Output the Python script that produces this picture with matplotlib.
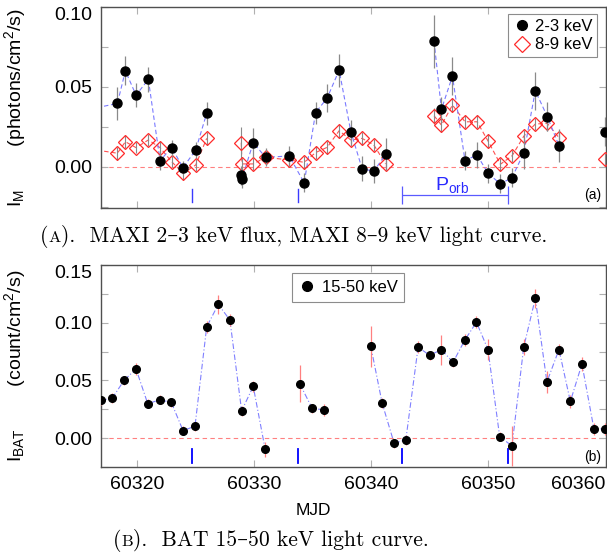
import numpy as np
import matplotlib
matplotlib.use("Agg")
import matplotlib.pyplot as plt
from matplotlib.ticker import FixedLocator, MultipleLocator, FormatStrFormatter
from matplotlib.lines import Line2D

plt.rcParams['font.family'] = ['Liberation Sans', 'DejaVu Sans']
plt.rcParams['mathtext.fontset'] = 'custom'
plt.rcParams['mathtext.rm'] = 'Liberation Sans'
plt.rcParams['mathtext.it'] = 'Liberation Sans:italic'
plt.rcParams['mathtext.bf'] = 'Liberation Sans:bold'

# MAXI daily light curve (photons/cm2/s)
maxi_mjd = [60316.0, 60318.35, 60319.03, 60319.94, 60320.99, 60321.99, 60322.98, 60323.95, 60325.03, 60325.97,
            60328.92, 60328.98, 60329.94, 60331.0, 60333.01, 60334.29, 60335.26, 60336.25, 60337.27, 60338.27,
            60339.23, 60340.23, 60341.23, 60345.37, 60346.0, 60346.94, 60348.01, 60349.04, 60349.98, 60351.03,
            60352.02, 60353.04, 60354.01, 60355.04, 60356.03, 60359.92]
flux_2_3 = [0.036, 0.0396, 0.060, 0.0448, 0.0546, 0.0038, 0.0119, -0.0006, 0.0104, 0.0334,
            -0.0055, -0.0075, 0.015, 0.0058, 0.0067, -0.0102, 0.0338, 0.043, 0.0604, 0.0219,
            -0.0013, -0.0029, 0.0077, 0.0786, 0.0359, 0.0567, 0.0038, 0.0073, -0.0042, -0.0108,
            -0.0069, 0.0088, 0.0475, 0.0313, 0.0131, 0.0219]
err_2_3 = [0.009, 0.0102, 0.009, 0.0075, 0.008, 0.006, 0.005, 0.004, 0.005, 0.0073,
           0.006, 0.006, 0.009, 0.0057, 0.006, 0.006, 0.007, 0.009, 0.0104, 0.0075,
           0.0078, 0.0075, 0.010, 0.0167, 0.0078, 0.0118, 0.006, 0.008, 0.006, 0.006,
           0.006, 0.010, 0.012, 0.009, 0.0104, 0.009]
flux_8_9 = [0.011, 0.0084, 0.0156, 0.0119, 0.0167, 0.0119, 0.0031, -0.0041, 0.001, 0.0177,
            0.015, 0.0017, 0.0017, 0.0058, 0.0042, 0.0027, 0.0088, 0.0121, 0.0225, 0.0167,
            0.0177, 0.0136, 0.0017, 0.0319, 0.026, 0.0386, 0.0281, 0.0281, 0.016, 0.0015,
            0.0067, 0.0192, 0.0267, 0.0271, 0.0181, 0.0046]
err_8_9 = [0.004, 0.004, 0.004, 0.0035, 0.004, 0.004, 0.0035, 0.004, 0.0035, 0.004,
           0.010, 0.004, 0.004, 0.0035, 0.004, 0.004, 0.004, 0.004, 0.0045, 0.004,
           0.004, 0.004, 0.004, 0.005, 0.004, 0.0045, 0.004, 0.004, 0.0045, 0.004,
           0.004, 0.004, 0.004, 0.0045, 0.004, 0.004]

# Swift/BAT daily light curve (count/cm2/s)
bat_mjd = [60316.96, 60317.92, 60318.92, 60319.94, 60320.94, 60321.96, 60322.95, 60323.95, 60324.97, 60325.97,
           60326.96, 60327.95, 60328.95, 60329.94, 60330.96, 60333.92, 60334.97, 60335.97, 60339.97, 60340.94,
           60341.96, 60342.96, 60344.01, 60345.0, 60346.0, 60346.99, 60347.99, 60348.99, 60349.97, 60350.97,
           60352.02, 60353.02, 60354.01, 60355.0, 60356.03, 60357.0, 60357.99, 60359.01, 60359.98]
bat_rate = [0.0327, 0.0348, 0.0501, 0.060, 0.0298, 0.0333, 0.031, 0.0066, 0.0104, 0.0965,
            0.1159, 0.1023, 0.0237, 0.0449, -0.0096, 0.047, 0.0258, 0.0246, 0.0797, 0.0304,
            -0.0043, -0.0015, 0.0788, 0.0718, 0.0768, 0.0657, 0.0849, 0.1005, 0.0768, 0.0014,
            -0.0067, 0.0788, 0.1211, 0.0487, 0.0768, 0.0318, 0.0643, 0.0081, 0.0081]
bat_err = [0.004, 0.004, 0.004, 0.005, 0.004, 0.004, 0.004, 0.004, 0.004, 0.005,
           0.008, 0.005, 0.0045, 0.005, 0.0065, 0.016, 0.004, 0.005, 0.0177, 0.004,
           0.004, 0.004, 0.005, 0.004, 0.013, 0.004, 0.005, 0.005, 0.0087, 0.004,
           0.0174, 0.007, 0.008, 0.0094, 0.005, 0.006, 0.006, 0.005, 0.005]

# orbital phase zero epochs
orb_mjd = [60324.7, 60333.75, 60342.67, 60351.7]

x_ticks = [60320, 60330, 60340, 60350, 60360]
x_range = (60316.95, 60360.0)


def with_gaps(x, y, gap=2.5):
  # break the connecting line where days are missing
  xs, ys = [x[0]], [y[0]]
  for i in range(1, len(x)):
    if x[i] - x[i - 1] > gap:
      xs.append(np.nan)
      ys.append(np.nan)
    xs.append(x[i])
    ys.append(y[i])
  return xs, ys


def style_axes(ax, yticks, ymin):
  ax.set_xlim(x_range)
  ax.set_ylim(ymin, yticks[-1])
  ax.xaxis.set_major_locator(FixedLocator(x_ticks))
  ax.yaxis.set_major_locator(FixedLocator(yticks))
  ax.yaxis.set_minor_locator(MultipleLocator(0.025))
  ax.yaxis.set_major_formatter(FormatStrFormatter('%.2f'))
  ax.tick_params(which='both', direction='in', top=True, right=True,
                 length=5, width=0.8, color='#b0b0b0', labelsize=14, pad=6)
  for s in ax.spines.values():
    s.set_color('#505050')
    s.set_linewidth(1.0)
  ax.axhline(0, color='#ff8080', lw=0.8, ls=(0, (4, 3)), zorder=1)
  # keep the top label inside the frame
  ax.yaxis.get_major_ticks()[-1].label1.set_va('top')


fig = plt.figure(figsize=(6.07, 5.56), dpi=100)
ax1 = fig.add_axes([101 / 607, 1 - 207.5 / 556, 504.5 / 607, 200.5 / 556])
ax2 = fig.add_axes([101 / 607, 1 - 467.3 / 556, 504.5 / 607, 202.3 / 556])

#
# (a) MAXI
#
style_axes(ax1, [0.0, 0.05, 0.10], -0.0256)
ax1.tick_params(axis='x', labelbottom=False)

lx, ly = with_gaps(maxi_mjd, flux_8_9)
ax1.plot(lx, ly, color='#ff5050', lw=0.8, ls=(0, (4, 2.5)), zorder=2)
lx, ly = with_gaps(maxi_mjd, flux_2_3)
ax1.plot(lx, ly, color='#7a7aff', lw=0.8, ls=(0, (4, 2.5)), zorder=2)

ax1.errorbar(maxi_mjd, flux_8_9, yerr=err_8_9, fmt='D', ms=7.5, mfc='none', mec='#ff2a2a',
             mew=0.9, ecolor='#8a8a8a', elinewidth=0.8, capsize=0, zorder=3)
ax1.errorbar(maxi_mjd, flux_2_3, yerr=err_2_3, fmt='o', ms=6.5, color='black',
             ecolor='#8a8a8a', elinewidth=0.9, capsize=0, zorder=4)

# orbit markers, with one period drawn as a bar
for t in orb_mjd[:2]:
  ax1.plot([t, t], [-0.0142, -0.0222], color='#3a3aff', lw=1.0)
ax1.errorbar([(orb_mjd[2] + orb_mjd[3]) / 2], [-0.0178], xerr=[(orb_mjd[3] - orb_mjd[2]) / 2],
             fmt='none', ecolor='#5a5aff', elinewidth=0.9, capsize=6.5, capthick=0.9)
ax1.text((orb_mjd[2] + orb_mjd[3]) / 2 - 0.3, -0.0115, r'$\mathregular{P_{orb}}$',
         color='#2a2aff', fontsize=14, ha='center', va='center')

ax1.text(0.975, 0.062, '(a)', transform=ax1.transAxes, fontsize=10, ha='center', va='center')

ax1.set_ylabel(r'$\mathregular{I_{M}}$' + '        ' + r'(photons/cm$\mathregular{^{2}}$/s)', fontsize=14)
ax1.yaxis.set_label_coords(-0.145, 0.5)

h1 = [Line2D([], [], marker='o', ls='none', color='black', ms=7),
      Line2D([], [], marker='D', ls='none', mfc='none', mec='#ff2a2a', ms=8, mew=0.9)]
leg = ax1.legend(h1, ['2-3 keV', '8-9 keV'], loc='upper right', bbox_to_anchor=(0.984, 0.965),
                 borderaxespad=0, fontsize=12, frameon=True, fancybox=False, handletextpad=0.3,
                 handlelength=1.0, borderpad=0.3, labelspacing=0.2)
leg.get_frame().set_edgecolor('#707070')
leg.get_frame().set_linewidth(0.8)

#
# (b) BAT
#
style_axes(ax2, [0.0, 0.05, 0.10, 0.15], -0.0252)
ax2.xaxis.get_major_ticks()[-1].label1.set_ha('right')

lx, ly = with_gaps(bat_mjd, bat_rate)
ax2.plot(lx, ly, color='#8080ff', lw=0.8, ls=(0, (5, 2, 1, 2)), zorder=2)
ax2.errorbar(bat_mjd, bat_rate, yerr=bat_err, fmt='o', ms=5.5, color='black',
             ecolor='#ff8080', elinewidth=0.9, capsize=0, zorder=4)

for t in orb_mjd:
  ax2.plot([t, t], [-0.0093, -0.0215], color='#0000ff', lw=1.3)

ax2.text(0.975, 0.052, '(b)', transform=ax2.transAxes, fontsize=10, ha='center', va='center')

ax2.set_ylabel(r'$\mathregular{I_{BAT}}$' + '        ' + r'(count/cm$\mathregular{^{2}}$/s)', fontsize=14)
ax2.yaxis.set_label_coords(-0.145, 0.5)
ax2.set_xlabel('MJD', fontsize=12.5)
ax2.xaxis.set_label_coords(0.421, -0.178)

h2 = [Line2D([], [], marker='o', ls='none', color='black', ms=7)]
leg = ax2.legend(h2, ['15-50 keV'], loc='upper right', bbox_to_anchor=(0.601, 0.959),
                 borderaxespad=0, fontsize=12, frameon=True, fancybox=False, handletextpad=0.4,
                 handlelength=1.0, borderpad=0.4)
leg.get_frame().set_edgecolor('#707070')
leg.get_frame().set_linewidth(0.8)


#
# captions under each panel, small caps letter built from pieces
#
def caption(x_px, y_px, letter, rest):
  r = fig.canvas.get_renderer()
  x = x_px
  for s, fs in [('(', 15.5), (letter, 11.8), (').  ' + rest, 15.5)]:
    t = fig.text(x / 607, 1 - y_px / 556, s, fontsize=fs, va='baseline',
                 family=['cmr10', 'DejaVu Serif'])
    x += t.get_window_extent(r).width


caption(40, 242, 'A', 'MAXI 2\u20133 keV flux, MAXI 8\u20139 keV light curve.')
caption(113, 546, 'B', 'BAT 15\u201350 keV light curve.')

fig.savefig('out.png', dpi=100)
